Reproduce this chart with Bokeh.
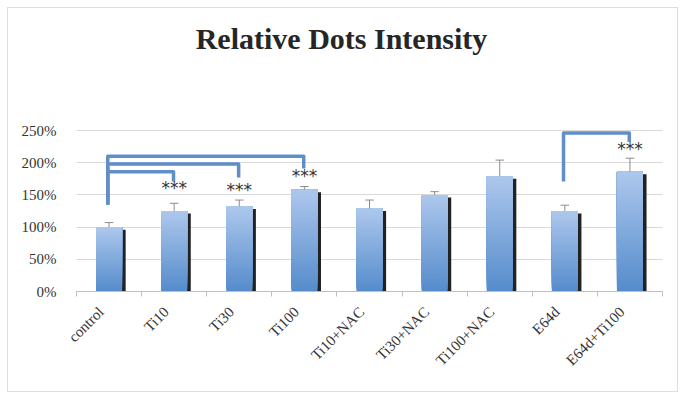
import numpy as np
from bokeh.plotting import figure
from bokeh.models import FixedTicker, Label, PrintfTickFormatter
from bokeh.core.properties import value
from bokeh.embed import file_html
from bokeh.resources import INLINE

# ---- data ----
categories = ["control", "Ti10", "Ti30", "Ti100", "Ti10+NAC", "Ti30+NAC",
              "Ti100+NAC", "E64d", "E64d+Ti100"]
values = [100, 125, 132, 158, 129, 150, 179, 125, 186]
errors = [7, 12, 10, 5, 13, 5, 25, 9, 21]
y_ticks = [0, 50, 100, 150, 200, 250]

star_groups = ["Ti10", "Ti30", "Ti100", "E64d+Ti100"]
star_heights = [160, 158, 180, 222]

bracket_left = ["control", "control", "control", "E64d"]
bracket_right = ["Ti10", "Ti30", "Ti100", "E64d+Ti100"]
bracket_top = [186, 198, 210, 246]
bracket_left_low = [135, 135, 135, 171]
bracket_right_low = [171, 177, 191, 232]

title_text = "Relative Dots Intensity"

# ---- layout constants ----
H, BOTTOM = 385, 102
frame_px = H - BOTTOM                    # frame spans whole height above x axis
axis_px = 161                            # px between 0% and 250%
y_end = 250 * frame_px / axis_px

idx = {c: i for i, c in enumerate(categories)}
xs = np.arange(len(categories))

p = figure(width=671, height=H, output_backend="svg", toolbar_location=None,
           x_range=(-0.5, len(categories) - 0.5), y_range=(0, y_end),
           min_border_left=68, min_border_right=17, min_border_top=0,
           min_border_bottom=BOTTOM,
           styles={"border": "1px solid #dedede", "margin-left": "7px", "margin-top": "7px"})
p.outline_line_color = None
p.background_fill_color = "white"

# title (inside the extended frame, above the data area)
p.add_layout(Label(x=3.57, y=250 * (291 - 38) / axis_px, text=title_text,
                   text_align="center", text_baseline="alphabetic",
                   text_font="Liberation Serif", text_font_size="30px",
                   text_font_style="bold", text_color="#262626"))

# shadows
p.vbar(x=xs + 0.055, top=np.array(values) - 4, bottom=0, width=0.4,
       fill_color="#222222", line_color=None)

# gradient bars (each slice runs to the bar top, painted bottom-up)
N = 40
top_c = np.array([172, 199, 236])
bot_c = np.array([86, 140, 204])
gx, gb, gt, gc = [], [], [], []
for k in range(N):
    f = k / (N - 1)
    c = bot_c + (top_c - bot_c) * f
    col = "#%02x%02x%02x" % tuple(int(round(t)) for t in c)
    for i, v in enumerate(values):
        gx.append(i)
        gb.append(v * k / N)
        gt.append(v)
        gc.append(col)
p.vbar(x=gx, bottom=gb, top=gt, width=0.4, fill_color=gc, line_color=None)

# error bars
ev = np.array(values) + np.array(errors)
p.segment(x0=xs, y0=values, x1=xs, y1=ev, line_color="#8c8c8c", line_width=1)
p.segment(x0=xs - 0.065, y0=ev, x1=xs + 0.065, y1=ev, line_color="#8c8c8c", line_width=1)

# brackets
bxs, bys = [], []
for l, r, t, ll, rl in zip(bracket_left, bracket_right, bracket_top,
                           bracket_left_low, bracket_right_low):
    xl = idx[l] - 0.02
    xr = idx[r] - 0.01
    bxs.append([xl, xl, xr, xr])
    bys.append([ll, t, t, rl])
p.multi_line(xs=bxs, ys=bys, line_color="#5f8fc6", line_width=3.5,
             line_join="round", line_cap="butt")

# stars
p.text(x=[idx[g] for g in star_groups], y=star_heights, text=["***"] * len(star_groups),
       text_align="center", text_baseline="middle", text_font=value("DejaVu Sans"),
       text_font_size="17px", text_color="#333333")

# axes
p.xgrid.grid_line_color = None
p.ygrid.grid_line_color = "#d9d9d9"
p.ygrid.ticker = FixedTicker(ticks=y_ticks)

p.yaxis.ticker = FixedTicker(ticks=y_ticks)
p.yaxis.formatter = PrintfTickFormatter(format="%d%%")
p.yaxis.axis_line_color = None
p.yaxis.major_tick_line_color = None
p.yaxis.minor_tick_line_color = None
p.yaxis.major_label_text_font = "Liberation Serif"
p.yaxis.major_label_text_font_size = "15px"
p.yaxis.major_label_text_color = "#333333"
p.yaxis.major_label_standoff = 14

label_pos = [round(i - 0.12, 2) for i in range(len(categories))]
p.xaxis.ticker = FixedTicker(ticks=label_pos,
                             minor_ticks=[i - 0.5 for i in range(len(categories) + 1)])
p.xaxis.major_label_overrides = {lp: c for lp, c in zip(label_pos, categories)}
p.xaxis.major_label_orientation = np.pi / 4
p.xaxis.major_label_text_font = "Liberation Serif"
p.xaxis.major_label_text_font_size = "15px"
p.xaxis.major_label_text_color = "#333333"
p.xaxis.axis_line_color = "#bfbfbf"
p.xaxis.major_tick_line_color = None
p.xaxis.minor_tick_line_color = "#bfbfbf"
p.xaxis.minor_tick_in = 0
p.xaxis.minor_tick_out = 5
p.xaxis.major_label_standoff = 12

open("out.html", "w").write(file_html(p, INLINE))
